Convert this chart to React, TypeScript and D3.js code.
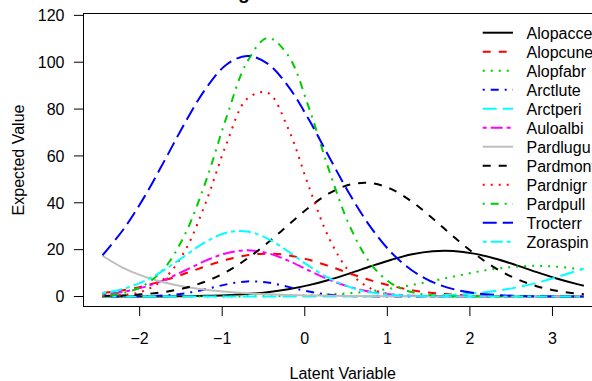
import React from 'react';
import * as d3 from 'd3';

// Latent variable positions at which the expected values were read
const latentValues = [-2.45, -2.2, -1.95, -1.7, -1.45, -1.2, -0.95, -0.7, -0.45, -0.2, 0.05, 0.3, 0.55, 0.8, 1.05, 1.3, 1.55, 1.8, 2.05, 2.3, 2.55, 2.8, 3.05, 3.3, 3.38];

const speciesNames = ['Alopacce', 'Alopcune', 'Alopfabr', 'Arctlute', 'Arctperi', 'Auloalbi', 'Pardlugu', 'Pardmont', 'Pardnigr', 'Pardpull', 'Trocterr', 'Zoraspin'];

const alopacce = [0.0, 0.01, 0.02, 0.05, 0.12, 0.27, 0.54, 1.03, 1.84, 3.09, 4.86, 7.17, 9.93, 12.9, 15.7, 18.0, 19.3, 19.4, 18.3, 16.2, 13.5, 10.5, 7.69, 5.28, 4.62];
const alopcune = [1.5, 2.7, 4.49, 6.89, 9.8, 12.9, 15.65, 17.6, 18.3, 17.6, 15.65, 12.9, 9.8, 6.89, 4.49, 2.7, 1.5, 0.77, 0.37, 0.16, 0.07, 0.03, 0.01, 0, 0];
const alopfabr = [0, 0, 0, 0, 0.01, 0.01, 0.03, 0.06, 0.13, 0.26, 0.49, 0.87, 1.45, 2.3, 3.46, 4.93, 6.64, 8.48, 10.3, 11.8, 12.7, 13.1, 12.7, 11.8, 11.3];
const arctlute = [0, 0.02, 0.11, 0.45, 1.36, 3.08, 5.17, 6.44, 5.96, 4.1, 2.09, 0.79, 0.22, 0.05, 0.01, 0, 0, 0, 0, 0, 0, 0, 0, 0, 0];
const arctperi = [0, 0, 0, 0, 0, 0, 0, 0, 0, 0, 0, 0.01, 0.01, 0.04, 0.08, 0.18, 0.38, 0.74, 1.36, 2.34, 3.79, 5.76, 8.22, 11.0, 11.96];
const auloalbi = [0.87, 1.98, 4.0, 7.1, 11.1, 15.3, 18.5, 19.7, 18.5, 15.3, 11.1, 7.1, 4.0, 1.98, 0.87, 0.33, 0.11, 0.03, 0, 0, 0, 0, 0, 0, 0];
const pardlugu = [17.4, 12.23, 8.57, 5.98, 4.16, 2.88, 1.99, 1.37, 0.94, 0.64, 0.44, 0.3, 0.2, 0.13, 0.09, 0.06, 0.04, 0.03, 0.02, 0.01, 0.01, 0, 0, 0, 0];
const pardmont = [0.19, 0.45, 0.97, 1.95, 3.66, 6.41, 10.5, 16.1, 22.9, 30.5, 38.0, 44.1, 47.8, 48.4, 45.8, 40.4, 33.3, 25.6, 18.4, 12.3, 7.72, 4.51, 2.46, 1.25, 1.0];
const pardnigr = [0.12, 0.59, 2.38, 7.65, 19.6, 40.0, 65.0, 84.3, 87.0, 71.6, 46.9, 24.5, 10.2, 3.37, 0.89, 0.19, 0.03, 0, 0, 0, 0, 0, 0, 0, 0];
const pardpull = [0.41, 1.51, 4.66, 12.1, 26.6, 49.0, 76.3, 100.0, 110.4, 102.8, 80.6, 53.3, 29.6, 13.9, 5.5, 1.83, 0.51, 0.12, 0.03, 0.01, 0, 0, 0, 0, 0];
const trocterr = [17.6, 28.5, 42.1, 57.9, 74.2, 88.7, 98.9, 102.7, 99.4, 89.7, 75.5, 59.2, 43.3, 29.5, 18.7, 11.1, 6.13, 3.15, 1.51, 0.68, 0.28, 0.11, 0.04, 0.01, 0.01];
const zoraspin = [1.4, 3.23, 6.48, 11.4, 17.4, 23.3, 27.2, 27.75, 24.7, 19.2, 13.0, 7.7, 3.98, 1.79, 0.71, 0.24, 0.07, 0.02, 0, 0, 0, 0, 0, 0, 0];

const speciesValues = [alopacce, alopcune, alopfabr, arctlute, arctperi, auloalbi, pardlugu, pardmont, pardnigr, pardpull, trocterr, zoraspin];

const speciesColors = ['#000000', '#FF0000', '#00CD00', '#0000FF', '#00FFFF', '#FF00FF', '#BEBEBE', '#000000', '#FF0000', '#00CD00', '#0000FF', '#00FFFF'];
const speciesDashes = ['', '8,8', '2,6', '2,6,8,6', '14,6', '4,4,12,4', '', '8,8', '2,6', '2,6,8,6', '14,6', '4,4,12,4'];

const xTicks = [-2, -1, 0, 1, 2, 3];
const yTicks = [0, 20, 40, 60, 80, 100, 120];

const titleText = 'A gllvm with latent variable';
const xLabel = 'Latent Variable';
const yLabel = 'Expected Value';

const FONT = "'Liberation Sans', Arial, Helvetica, sans-serif";

export default function App() {
  const W = 592;
  const H = 381;
  const left = 83.5;
  const right = 602;
  const top = 13.5;
  const bottom = 306.5;

  const x = d3.scaleLinear().domain([-2.68, 3.6]).range([left, right]);
  const y = d3.scaleLinear().domain([-4.27, 120.8]).range([bottom, top]);

  const line = d3
    .line<[number, number]>()
    .x((d) => x(d[0]))
    .y((d) => y(d[1]))
    .curve(d3.curveCatmullRom.alpha(0.5));

  const fmt = (t: number) => (t < 0 ? '\u2212' + Math.abs(t) : String(t));

  const cx = (left + right) / 2;
  const cy = (top + bottom) / 2;

  const legendX1 = 482.7;
  const legendX2 = 513;
  const legendTextX = 526.5;
  const legendY0 = 32.7;
  const legendStep = 19;

  return (
    <svg
      width={W}
      height={H}
      viewBox={`0 0 ${W} ${H}`}
      style={{ position: 'absolute', left: 0, top: 0, background: '#fff', display: 'block' }}
      fontFamily={FONT}
    >
      <rect x={0} y={0} width={W} height={H} fill="#fff" />
      <defs>
        <clipPath id="plotclip">
          <rect x={left} y={top} width={right - left} height={bottom - top} />
        </clipPath>
      </defs>

      {/* title (mostly above the visible area, as in the reference) */}
      <text x={cx} y={-1} textAnchor="middle" fontSize={19.2} fontWeight="bold" fill="#000">
        {titleText}
      </text>

      {/* curves */}
      <g clipPath="url(#plotclip)">
        {speciesNames.map((name, i) => {
          const pts: [number, number][] = latentValues.map((lv, j) => [lv, speciesValues[i][j]]);
          return (
            <path
              key={name}
              d={line(pts) || ''}
              fill="none"
              stroke={speciesColors[i]}
              strokeWidth={2}
              strokeDasharray={speciesDashes[i] || undefined}
              strokeLinejoin="round"
            />
          );
        })}
      </g>

      {/* box */}
      <rect x={left} y={top} width={right - left} height={bottom - top} fill="none" stroke="#000" strokeWidth={1} />

      {/* x axis */}
      <g>
        {xTicks.map((t) => (
          <g key={t}>
            <line x1={x(t)} x2={x(t)} y1={bottom} y2={bottom + 9.6} stroke="#000" strokeWidth={1} />
            <text x={x(t)} y={344} textAnchor="middle" fontSize={16} fill="#000">
              {fmt(t)}
            </text>
          </g>
        ))}
      </g>

      {/* y axis */}
      <g>
        {yTicks.map((t) => (
          <g key={t}>
            <line x1={left - 9.6} x2={left} y1={y(t)} y2={y(t)} stroke="#000" strokeWidth={1} />
            <text x={64.5} y={y(t) + 5.8} textAnchor="end" fontSize={16} fill="#000">
              {fmt(t)}
            </text>
          </g>
        ))}
      </g>

      {/* axis titles */}
      <text x={cx} y={378.5} textAnchor="middle" fontSize={16} fill="#000">
        {xLabel}
      </text>
      <text
        transform={`translate(23.5, ${cy}) rotate(-90)`}
        textAnchor="middle"
        fontSize={16}
        fill="#000"
      >
        {yLabel}
      </text>

      {/* legend */}
      <g>
        {speciesNames.map((name, i) => {
          const ly = legendY0 + i * legendStep;
          return (
            <g key={name}>
              <line
                x1={legendX1}
                x2={legendX2}
                y1={ly}
                y2={ly}
                stroke={speciesColors[i]}
                strokeWidth={2}
                strokeDasharray={speciesDashes[i] || undefined}
              />
              <text x={legendTextX} y={ly + 5.8} fontSize={16} fill="#000">
                {name}
              </text>
            </g>
          );
        })}
      </g>
    </svg>
  );
}
